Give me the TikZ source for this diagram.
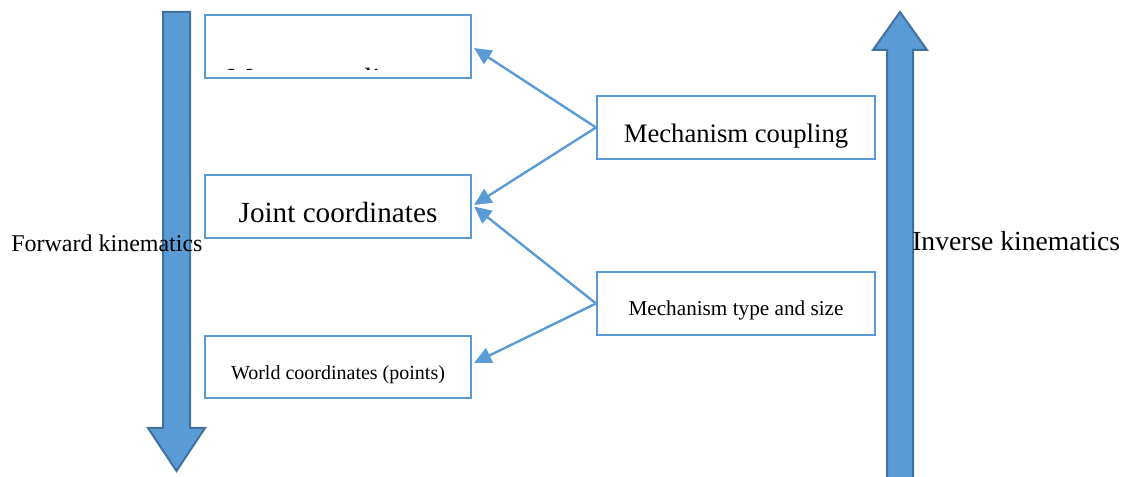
\documentclass[tikz,border=0pt]{standalone}
\usepackage{fontspec}
\setmainfont{Liberation Serif}
\usetikzlibrary{arrows.meta,calc}
\definecolor{boxblue}{HTML}{5B9BD5}
\definecolor{edgeblue}{HTML}{41719C}
\tikzset{
  box/.style={draw=boxblue, line width=1.5pt, fill=white, rectangle, inner sep=0pt,
              minimum width=199.5pt, minimum height=47.25pt, text depth=0pt},
  widebox/.style={box, minimum width=208.5pt},
  conn/.style={draw=boxblue, line width=1.8pt, -{Triangle[length=13pt,width=12pt]}},
  bigarrow/.style={fill=boxblue, draw=edgeblue, line width=1.5pt, line join=miter},
  fs/.style={font=\fontsize{#1}{#1}\selectfont}
}
\begin{document}
\begin{tikzpicture}[x=0.75pt,y=-0.75pt]
\useasboundingbox (0,0) rectangle (1136,477);
% big block arrows
\draw[bigarrow] (163,12) -- (190,12) -- (190,428) -- (205,428) -- (176.5,471) -- (148,428) -- (163,428) -- cycle;
\draw[bigarrow] (900,12) -- (927,50) -- (913,50) -- (913,490) -- (887,490) -- (887,50) -- (873,50) -- cycle;
% boxes
\node[box] (b1) at (338,46.5) {};
\begin{scope}
  \clip (207,17) rectangle (469,70);
  \node[fs=21.9, anchor=base west, inner sep=0pt] (motor) at (227,89) {Motor coupling};
\end{scope}
\node[box, fs=21.9, text height=24pt] (b2) at (338,206.5) {Joint coordinates};
\node[box, fs=15, text height=18.6pt, minimum height=46.5pt] (b3) at (338,367) {World coordinates (points)};
\node[widebox, fs=20, text height=22pt] (b4) at (736,127.5) {Mechanism coupling};
\node[widebox, fs=15.9, text height=18pt] (b5) at (736,303.5) {Mechanism type and size};
% connectors
\draw[conn] (b4.west) -- ($(b1.east)+(2,1.5)$);
\draw[conn] (b4.west) -- ($(b2.east)+(2,-1.5)$);
\draw[conn] (b5.west) -- ($(b2.east)+(2,0)$);
\draw[conn] (b5.west) -- ($(b3.east)+(2,-4)$);
% side labels
\node[fs=18, anchor=base west, inner sep=0pt] (fk) at (11,252) {Forward kinematics};
\node[fs=20.7, anchor=base west, inner sep=0pt] (ik) at (912,251) {Inverse kinematics};
\end{tikzpicture}
\end{document}
